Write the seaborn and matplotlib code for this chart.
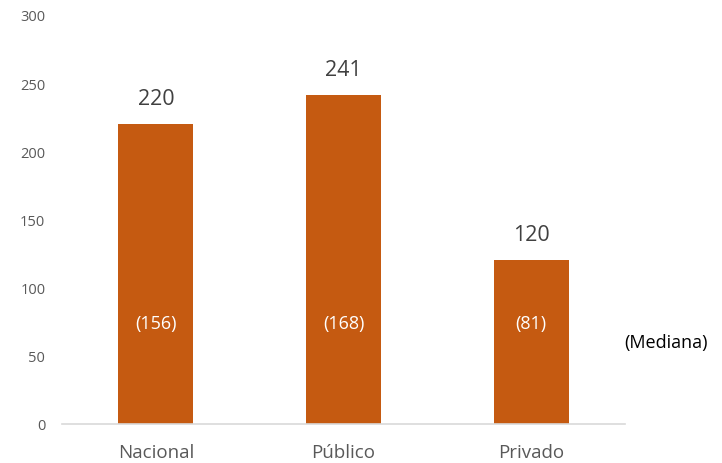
import pandas as pd
import matplotlib
matplotlib.use("Agg")
import matplotlib.pyplot as plt
import seaborn as sns

sns.set_style("white")
plt.rcParams['font.family'] = ['Open Sans', 'DejaVu Sans']

# Data
categorias = ["Nacional", "Público", "Privado"]
promedio = [220, 241, 120]
mediana = [156, 168, 81]

df = pd.DataFrame({"categoria": categorias, "promedio": promedio, "mediana": mediana})

fig = plt.figure(figsize=(7.22, 4.64), dpi=100)
ax = fig.add_axes([0.0859, 0.0841, 0.7798, 0.8815])

sns.barplot(data=df, x="categoria", y="promedio", color="#C55A11",
            saturation=1, width=0.4, linewidth=0, ax=ax)

ax.set_ylim(0, 300)
ax.set_xlim(-0.5, 2.5)
ax.set_yticks(range(0, 301, 50))
ax.set_xlabel("")
ax.set_ylabel("")

for s in ["top", "right", "left"]:
    ax.spines[s].set_visible(False)
ax.spines["bottom"].set_color("#D9D9D9")
ax.spines["bottom"].set_linewidth(1.2)

ax.tick_params(axis="y", length=0, labelsize=10.5, labelcolor="#595959", pad=12)
ax.tick_params(axis="x", length=0, labelsize=13.5, labelcolor="#595959", pad=14)

# Value labels above bars, medians inside bars
for i, (p, m) in enumerate(zip(promedio, mediana)):
    ax.text(i, p + 11, str(p), ha="center", va="bottom", fontsize=15.5, color="#404040")
    ax.text(i, 74, f"({m})", ha="center", va="center", fontsize=13, color="white")

ax.text(2.72, 60, "(Mediana)", ha="center", va="center", fontsize=13,
        color="black", clip_on=False)

fig.savefig("out.png", dpi=100)
